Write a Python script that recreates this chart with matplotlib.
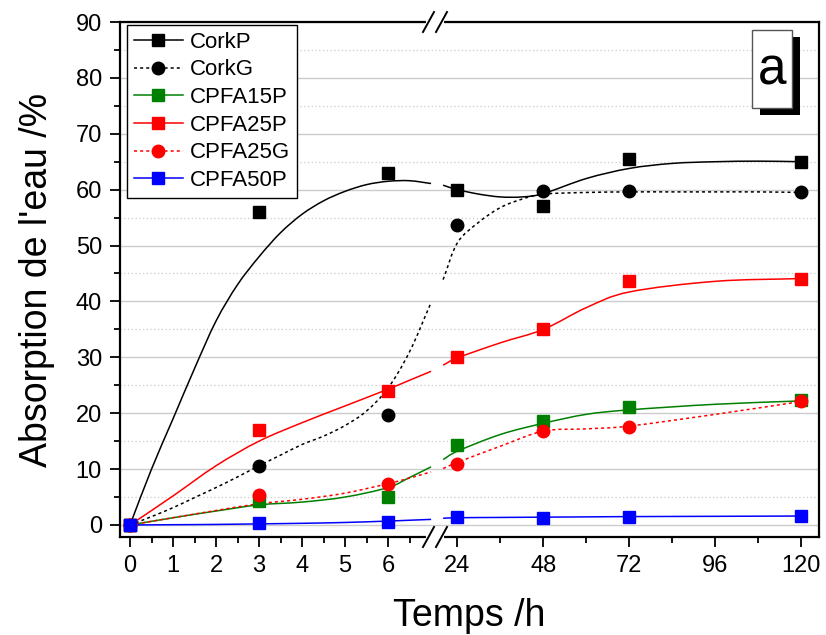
import numpy as np
import matplotlib
matplotlib.use("Agg")
import matplotlib.pyplot as plt
from matplotlib.lines import Line2D
from matplotlib.patches import Rectangle, PathPatch
from matplotlib.path import Path

plt.rcParams['font.family'] = ['Liberation Sans', 'DejaVu Sans']

# measured points
t_pts = [0, 3, 6, 24, 48, 72, 120]
corkP = [0, 56.0, 63.0, 60.0, 57.1, 65.5, 65.0]
corkG = [0, 10.6, 19.7, 53.7, 59.7, 59.7, 59.5]
cpfa15P = [0, 4.3, 5.0, 14.3, 18.6, 21.1, 22.4]
cpfa25P = [0, 17.0, 24.0, 30.0, 35.0, 43.6, 44.1]
cpfa25G = [0, 5.3, 7.4, 11.0, 16.8, 17.6, 22.2]
cpfa50P = [0, 0.3, 0.6, 1.4, 1.3, 1.5, 1.6]

# fitted curves (left part 0-7 h, right part 20-120 h)
tl_fine = [0, 0.5, 1, 1.5, 2, 2.5, 3, 3.5, 4, 4.5, 5, 5.5, 6, 6.5, 7]
tl = [0, 1, 2, 3, 4, 5, 6, 6.5, 7]
tr_fine = [20, 24, 30, 36, 42, 48, 60, 72, 84, 96, 108, 120]
tr = [20, 24, 36, 48, 60, 72, 96, 120]

corkP_l = [0, 10, 19, 28, 36.5, 43, 48, 52.3, 55.6, 58, 59.7, 60.9, 61.5, 61.6, 61.1]
corkP_r = [60.8, 60.0, 59.2, 58.7, 58.7, 59.3, 62.0, 63.8, 64.7, 65.0, 65.1, 65.0]
corkG_l = [0, 1.5, 3.1, 4.9, 6.7, 8.6, 10.6, 12.5, 14.4, 15.9, 17.8, 20.4, 24.5, 31.0, 39.8]
corkG_r = [43.9, 50.5, 54.2, 56.8, 58.3, 59.2, 59.5, 59.6, 59.6, 59.6, 59.6, 59.5]
cpfa15P_l = [0, 1.3, 2.5, 3.6, 4.1, 5.0, 6.7, 8.5, 10.4]
cpfa15P_r = [11.7, 13.2, 16.2, 18.2, 19.8, 20.6, 21.6, 22.2]
cpfa25P_l = [0, 5.2, 10.6, 15.0, 18.3, 21.3, 24.3, 25.9, 27.5]
cpfa25P_r = [28.6, 29.9, 32.6, 35.0, 38.9, 41.7, 43.6, 44.1]
cpfa25G_l = [0, 1.3, 2.6, 3.8, 4.6, 5.7, 7.4, 8.4, 9.5]
cpfa25G_r = [10.1, 11.2, 14.1, 16.8, 17.2, 17.7, 19.8, 22.1]
cpfa50P_l = [0, 0.05, 0.1, 0.2, 0.3, 0.45, 0.7, 0.85, 1.0]
cpfa50P_r = [1.2, 1.3, 1.35, 1.4, 1.45, 1.5, 1.55, 1.6]

labels = ['CorkP', 'CorkG', 'CPFA15P', 'CPFA25P', 'CPFA25G', 'CPFA50P']
colors = ['black', 'black', 'green', 'red', 'red', 'blue']
markers = ['s', 'o', 's', 's', 'o', 's']
styles = ['-', (0, (2, 2)), '-', '-', (0, (2, 2)), '-']
points = [corkP, corkG, cpfa15P, cpfa25P, cpfa25G, cpfa50P]
curves = [(tl_fine, corkP_l, tr_fine, corkP_r),
          (tl_fine, corkG_l, tr_fine, corkG_r),
          (tl, cpfa15P_l, tr, cpfa15P_r),
          (tl, cpfa25P_l, tr, cpfa25P_r),
          (tl, cpfa25G_l, tr, cpfa25G_r),
          (tl, cpfa50P_l, tr, cpfa50P_r)]


def to_pos(t):
    # broken time axis: 0-7 h linear, then 20-125 h compressed
    t = np.asarray(t, float)
    return np.where(t <= 7, t, 7.28 + (t - 20) * 0.0833)


def smooth_line(ax, x, y, **kw):
    # draw the read curve points as a smooth bezier path
    p = np.column_stack([x, y]).astype(float)
    m = np.zeros_like(p)
    m[1:-1] = (p[2:] - p[:-2]) / 2
    m[0] = p[1] - p[0]
    m[-1] = p[-1] - p[-2]
    verts = [p[0]]
    codes = [Path.MOVETO]
    for i in range(len(p) - 1):
        verts += [p[i] + m[i] / 3, p[i + 1] - m[i + 1] / 3, p[i + 1]]
        codes += [Path.CURVE4] * 3
    ax.add_patch(PathPatch(Path(verts, codes), fill=False, **kw))


W, H = 826, 635
fig = plt.figure(figsize=(W / 100, H / 100), dpi=100)
ax = fig.add_axes([120 / W, 1 - 537 / H, 699 / W, 515 / H])

for (ta, ya, tb, yb), c, ls in zip(curves, colors, styles):
    smooth_line(ax, to_pos(ta), ya, edgecolor=c, linestyle=ls, lw=1.1, zorder=3)
    smooth_line(ax, to_pos(tb), yb, edgecolor=c, linestyle=ls, lw=1.1, zorder=3)

for y, c, m in zip(points, colors, markers):
    ms = 9 if m == 'o' else 8
    ax.plot(to_pos(t_pts), y, ls='none', marker=m, color=c, ms=ms, zorder=4)

ax.set_xlim(-0.233, 16.02)
ax.set_ylim(-2.15, 90)

major_t = [0, 1, 2, 3, 4, 5, 6, 24, 48, 72, 96, 120]
minor_t = [0.5, 1.5, 2.5, 3.5, 4.5, 5.5, 6.5, 36, 60, 84, 108]
ax.set_xticks(to_pos(major_t))
ax.set_xticklabels([str(v) for v in major_t])
ax.set_xticks(to_pos(minor_t), minor=True)
ax.set_yticks(np.arange(0, 91, 10))
ax.set_yticks(np.arange(5, 90, 10), minor=True)

ax.tick_params(which='major', direction='out', length=7, width=1.3, labelsize=17, pad=6)
ax.tick_params(which='minor', direction='out', length=4, width=1.3)
for s in ax.spines.values():
    s.set_linewidth(1.6)

ax.yaxis.grid(True, which='major', color='#cccccc', lw=1.0)
ax.yaxis.grid(True, which='minor', color='#cccccc', lw=0.9, ls=(0, (1, 2)))
ax.set_axisbelow(True)

ax.set_xlabel('Temps /h', fontsize=27, labelpad=15)
ax.set_ylabel("Absorption de l'eau /%", fontsize=27, labelpad=15)

handles = [Line2D([], [], color=c, ls=ls, lw=1.1, marker=m, ms=9 if m == 'o' else 8)
           for c, ls, m in zip(colors, styles, markers)]
leg = ax.legend(handles, labels, loc='upper left', bbox_to_anchor=(0.01, 0.994),
                fontsize=16, frameon=True, fancybox=False, framealpha=1,
                edgecolor='black', handlelength=2.2, labelspacing=0.3,
                handletextpad=0.35, borderpad=0.3, borderaxespad=0)
leg.get_frame().set_linewidth(1.0)
leg.set_zorder(6)

# axis break marks
for yb in (22, 537):
    yf = 1 - yb / H
    fig.add_artist(Line2D([428 / W, 442 / W], [yf, yf], color='white', lw=3))
    for x0 in (423, 436):
        fig.add_artist(Line2D([x0 / W, (x0 + 11) / W], [yf - 10 / H, yf + 10 / H],
                              color='black', lw=1.4))

# panel label "a" with shadow
fig.add_artist(Rectangle((760 / W, 1 - 115 / H), 40 / W, 78 / H,
                         facecolor='black', edgecolor='none', transform=fig.transFigure))
fig.add_artist(Rectangle((752 / W, 1 - 108 / H), 40 / W, 78 / H,
                         facecolor='white', edgecolor='#555555', lw=1.0,
                         transform=fig.transFigure))
fig.text(772 / W, 1 - 71 / H, 'a', fontsize=37, ha='center', va='center')

fig.savefig('out.png', dpi=100)
